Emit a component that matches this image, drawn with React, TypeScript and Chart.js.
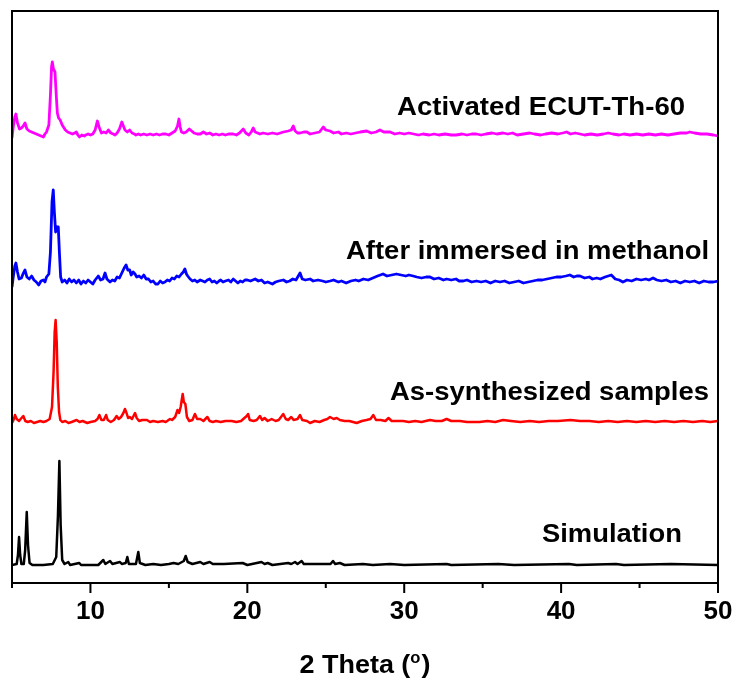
import React, { useEffect, useRef } from "react";
import { Chart, registerables } from "chart.js";

Chart.register(...registerables);

// ---- axis ticks ----
const xMajorTicks = [10, 20, 30, 40, 50];
const xMinorTicks = [5, 15, 25, 35, 45];

// ---- series names ----
const seriesNames = [
  "Simulation",
  "As-synthesized samples",
  "After immersed in methanol",
  "Activated ECUT-Th-60",
];

// vertical stacking offsets (intensity units)
const seriesOffsets = [18, 161, 301, 448];

// ---- data: [2theta, relative intensity] ----
const simulation: [number, number][] = [
  [5.0, 0], [5.3, 1], [5.38, 10], [5.45, 28], [5.52, 10], [5.6, 1], [5.75, 1], [5.84, 15], [5.94, 53], [6.02, 20],
  [6.12, 2], [6.3, 0], [7.0, 0], [7.6, 1], [7.82, 8], [7.93, 50], [8.02, 104], [8.1, 40], [8.2, 5], [8.35, 1],
  [8.59, 3], [8.7, 0], [9.29, 2], [9.4, 0], [10.5, 0], [10.82, 5], [10.95, 1], [11.25, 4], [11.4, 1], [11.88, 3],
  [12.0, 1], [12.25, 2], [12.35, 8], [12.45, 1], [12.9, 1], [13.05, 13], [13.15, 2], [13.5, 0], [14.0, 1], [14.5, 0],
  [15.0, 1], [15.3, 2], [15.6, 1], [15.95, 4], [16.07, 9], [16.2, 3], [16.5, 1], [17.0, 3], [17.2, 1], [17.6, 3],
  [17.8, 1], [18.5, 1], [19.7, 2], [20.0, 0], [20.9, 3], [21.1, 1], [21.3, 2], [21.6, 0], [22.6, 2], [22.8, 1],
  [23.04, 3], [23.2, 1], [23.46, 4], [23.6, 1], [24.5, 1], [25.3, 1], [25.46, 4], [25.6, 1], [25.9, 2], [26.2, 0], [27.37, 1],
  [28.0, 0], [29.1, 1], [30.0, 0], [32.7, 1], [33.0, 0], [36.0, 1], [37.0, 0], [40.5, 1], [41.0, 0], [43.5, 1],
  [44.0, 0], [47.0, 1], [50.0, 0],
];

const asSynthesized: [number, number][] = [
  [5.0, -1], [5.1, 2], [5.19, 7], [5.3, 3], [5.45, 1], [5.55, 3], [5.72, 6], [5.85, 1], [6.0, 0], [6.2, 1],
  [6.4, -1], [6.6, 0], [6.8, 1], [7.0, 0], [7.2, 1], [7.4, 3], [7.55, 15], [7.65, 50], [7.72, 90], [7.78, 102],
  [7.85, 80], [7.92, 35], [8.0, 10], [8.08, 2], [8.2, 0], [8.4, 1], [8.6, -1], [8.8, 0], [9.12, 2], [9.3, 0],
  [9.5, 1], [9.8, -1], [10.0, 0], [10.3, 1], [10.45, 3], [10.57, 7], [10.7, 2], [10.85, 2], [11.0, 7], [11.1, 2],
  [11.3, 0], [11.5, 2], [11.67, 6], [11.8, 3], [11.95, 5], [12.1, 9], [12.2, 13], [12.3, 9], [12.4, 4], [12.5, 5],
  [12.65, 3], [12.84, 9], [12.95, 4], [13.1, 1], [13.3, 2], [13.6, 2], [13.8, 0], [14.0, 1], [14.3, 0], [14.6, 1],
  [14.8, 0], [15.07, 3], [15.2, 2], [15.4, 5], [15.55, 12], [15.65, 9], [15.75, 15], [15.88, 28], [15.95, 20], [16.05, 18],
  [16.15, 5], [16.3, 1], [16.5, 2], [16.66, 8], [16.8, 3], [17.0, 3], [17.2, 1], [17.45, 5], [17.6, 1], [17.8, 0],
  [18.0, 1], [18.3, 0], [18.6, 1], [19.0, 1], [19.3, 0], [19.6, 1], [19.96, 6], [20.05, 8], [20.15, 2], [20.4, 1],
  [20.6, 2], [20.8, 6], [20.95, 2], [21.1, 4], [21.3, 1], [21.55, 3], [21.8, 1], [22.0, 2], [22.29, 8], [22.45, 3],
  [22.6, 2], [22.8, 5], [22.95, 2], [23.2, 3], [23.36, 7], [23.5, 2], [23.8, 1], [24.0, -1], [24.3, 1], [24.6, 0],
  [24.9, 2], [25.1, 3], [25.27, 5], [25.5, 3], [25.7, 4], [25.9, 2], [26.2, 1], [26.5, 1], [26.97, -1], [27.3, 1],
  [27.6, 2], [27.85, 3], [28.03, 7], [28.2, 2], [28.5, 2], [28.8, 1], [29.0, 4], [29.2, 1], [29.5, 1], [29.93, 1],
  [30.3, 0], [30.7, 1], [31.1, 0], [31.64, 2], [32.0, 1], [32.4, 1], [32.7, 3], [33.0, 1], [33.55, 1], [34.0, 0],
  [34.8, 0], [35.3, 1], [35.8, 0], [36.3, 2], [36.8, 1], [37.4, 0], [38.0, 1], [38.6, 0], [39.2, 1], [39.8, 1],
  [40.6, 2], [41.2, 1], [41.8, 1], [42.4, 0], [43.0, 1], [43.6, 0], [44.2, 1], [44.8, 0], [45.4, 1], [46.0, 0],
  [46.6, 1], [47.2, 0], [47.8, 1], [48.4, 0], [49.0, 1], [49.5, 0], [50.0, 1],
];

const methanol: [number, number][] = [
  [5.0, -5], [5.08, 5], [5.18, 16], [5.25, 19], [5.35, 10], [5.45, 3], [5.6, 4], [5.7, 8], [5.83, 12], [5.95, 5],
  [6.1, 3], [6.25, 6], [6.4, 2], [6.55, 0], [6.7, -3], [6.85, 1], [7.0, 2], [7.1, 0], [7.2, 5], [7.35, 8],
  [7.45, 30], [7.55, 80], [7.63, 92], [7.7, 70], [7.78, 50], [7.85, 55], [7.95, 55], [8.02, 30], [8.1, 5], [8.2, 0],
  [8.36, 2], [8.5, -1], [8.65, 3], [8.8, 0], [8.95, 2], [9.1, -1], [9.25, 2], [9.4, -2], [9.55, 1], [9.7, -1],
  [9.85, 2], [10.0, 0], [10.15, -2], [10.3, 2], [10.5, 6], [10.65, 2], [10.8, 3], [10.93, 9], [11.05, 3], [11.25, 0],
  [11.4, 2], [11.55, 1], [11.7, 5], [11.85, 4], [12.0, 9], [12.15, 14], [12.27, 17], [12.38, 12], [12.5, 12], [12.6, 7],
  [12.72, 10], [12.84, 8], [12.95, 5], [13.1, 6], [13.25, 4], [13.4, 7], [13.55, 3], [13.7, 3], [13.85, 0], [14.0, 1],
  [14.15, -2], [14.3, -2], [14.45, 1], [14.6, -1], [14.75, 0], [14.9, 2], [15.05, 1], [15.2, 4], [15.35, 3], [15.5, 6],
  [15.65, 5], [15.8, 8], [15.92, 10], [16.02, 13], [16.12, 8], [16.2, 6], [16.35, 3], [16.5, 1], [16.65, 2], [16.8, 0],
  [17.0, 2], [17.15, 1], [17.3, 0], [17.45, 2], [17.6, 3], [17.75, 0], [17.9, 1], [18.05, -1], [18.2, 1], [18.3, 2],
  [18.45, 0], [18.6, 1], [18.8, 2], [18.95, 0], [19.1, 3], [19.25, 1], [19.4, -1], [19.55, 1], [19.7, 0], [19.85, 2],
  [20.0, 2], [20.2, 1], [20.5, 3], [20.7, 1], [20.9, 2], [21.1, -1], [21.3, 0], [21.6, -2], [21.8, 0], [22.0, 1],
  [22.3, 2], [22.5, 0], [22.7, 1], [22.9, 3], [23.1, 2], [23.36, 9], [23.5, 3], [23.7, 2], [24.0, 3], [24.2, 1],
  [24.5, 2], [24.8, 1], [25.0, 0], [25.27, 1], [25.5, 2], [25.8, 0], [26.0, 1], [26.3, -1], [26.6, 1], [26.9, 2],
  [27.1, 1], [27.4, 3], [27.7, 2], [28.0, 4], [28.3, 6], [28.65, 8], [28.9, 6], [29.2, 7], [29.5, 8], [29.8, 7],
  [30.1, 6], [30.3, 7], [30.57, 6], [30.8, 5], [31.1, 4], [31.4, 5], [31.64, 5], [31.9, 3], [32.2, 4], [32.5, 2],
  [32.7, 3], [33.0, 2], [33.3, 3], [33.5, 1], [33.76, 1], [34.0, 2], [34.3, 0], [34.6, 1], [34.9, 0], [35.2, 1],
  [35.5, -1], [35.8, 1], [36.1, 0], [36.4, 1], [36.7, -1], [37.0, 0], [37.3, 1], [37.6, -1], [37.9, 0], [38.2, 1],
  [38.5, 2], [38.8, 2], [39.1, 3], [39.4, 4], [39.7, 5], [40.0, 5], [40.3, 6], [40.56, 7], [40.8, 5], [41.0, 6],
  [41.2, 6], [41.5, 4], [41.8, 5], [42.0, 3], [42.27, 4], [42.5, 3], [42.8, 5], [43.0, 6], [43.2, 7], [43.45, 3],
  [43.7, 2], [43.94, 0], [44.2, 2], [44.5, 1], [44.8, 3], [45.1, 2], [45.4, 3], [45.6, 2], [45.86, 4], [46.1, 2],
  [46.4, 1], [46.7, 2], [47.0, 0], [47.3, 1], [47.6, -1], [47.9, 1], [48.2, 0], [48.5, 1], [48.8, -1], [49.1, 1],
  [49.4, 0], [49.7, 0], [50.0, 1],
];

const activated: [number, number][] = [
  [5.0, -3], [5.08, 8], [5.18, 18], [5.25, 21], [5.35, 12], [5.48, 6], [5.6, 7], [5.72, 9], [5.83, 12], [5.95, 6],
  [6.1, 4], [6.25, 3], [6.4, 2], [6.55, 1], [6.7, 0], [6.85, -1], [7.0, -2], [7.1, 1], [7.2, 3], [7.35, 10],
  [7.45, 40], [7.52, 68], [7.57, 73], [7.64, 66], [7.74, 63], [7.82, 40], [7.89, 22], [7.97, 17], [8.07, 15], [8.2, 10],
  [8.4, 5], [8.55, 3], [8.7, 2], [8.85, 1], [9.0, 2], [9.1, 3], [9.2, 0], [9.3, -2], [9.45, 0], [9.6, -1],
  [9.7, 0], [9.85, 1], [10.0, 0], [10.15, 1], [10.3, 5], [10.44, 14], [10.55, 8], [10.7, 2], [10.85, 3], [11.0, 2],
  [11.14, 5], [11.3, 2], [11.45, 1], [11.57, 0], [11.7, 2], [11.85, 6], [12.0, 13], [12.1, 9], [12.2, 5], [12.35, 3],
  [12.5, 5], [12.65, 2], [12.8, 1], [12.9, 0], [13.05, 1], [13.2, 0], [13.4, 1], [13.6, 0], [13.8, 1], [14.0, 0],
  [14.2, 1], [14.4, 0], [14.6, 1], [14.8, 1], [15.0, 0], [15.2, 2], [15.4, 4], [15.55, 9], [15.64, 16], [15.72, 8],
  [15.8, 3], [15.95, 2], [16.1, 3], [16.3, 6], [16.45, 4], [16.6, 2], [16.8, 1], [17.0, 1], [17.2, 3], [17.4, 1],
  [17.6, 2], [17.8, 0], [18.0, 1], [18.2, 0], [18.4, 1], [18.6, 0], [18.8, 1], [19.1, 1], [19.3, 0], [19.5, 2],
  [19.74, 6], [19.9, 2], [20.1, 0], [20.25, 3], [20.38, 7], [20.5, 3], [20.8, 1], [21.0, 2], [21.3, 1], [21.6, 2],
  [21.9, 1], [22.1, 2], [22.3, 3], [22.6, 4], [22.8, 5], [22.93, 9], [23.05, 4], [23.2, 2], [23.36, 2], [23.6, 3],
  [23.8, 3], [24.0, 1], [24.3, 2], [24.6, 3], [24.84, 8], [25.0, 5], [25.27, 4], [25.5, 2], [25.8, 3], [26.0, 1],
  [26.3, 2], [26.6, 1], [26.9, 2], [27.2, 3], [27.6, 4], [27.9, 2], [28.2, 3], [28.45, 5], [28.7, 3], [29.1, 3],
  [29.4, 1], [29.7, 2], [30.0, 1], [30.3, 2], [30.6, 1], [30.9, 0], [31.2, 1], [31.6, 0], [31.9, 1], [32.2, 0],
  [32.6, 1], [33.0, 0], [33.3, 0], [33.7, 1], [34.0, 0], [34.3, 1], [34.6, 1], [34.9, 0], [35.2, 1], [35.6, 2],
  [35.9, 1], [36.3, 2], [36.6, 1], [36.9, 2], [37.2, 0], [37.6, 1], [38.0, 2], [38.3, 1], [38.7, 0], [39.0, 1],
  [39.4, 2], [39.8, 1], [40.1, 2], [40.35, 3], [40.6, 1], [40.9, 2], [41.2, 1], [41.5, 0], [41.9, 1], [42.3, 0],
  [42.7, 1], [43.0, 2], [43.3, 1], [43.7, 0], [44.0, 1], [44.4, 0], [44.8, 1], [45.2, 0], [45.6, 1], [46.0, 0],
  [46.4, 1], [46.8, 0], [47.2, 1], [47.6, 2], [48.0, 2], [48.2, 3], [48.5, 2], [48.9, 1], [49.3, 1], [49.7, 0],
  [50.0, -1],
];

const seriesData = [simulation, asSynthesized, methanol, activated];
const seriesColors = ["#000000", "#ff0000", "#0000ff", "#ff00ff"];
const seriesWidths = [2.5, 2.5, 2.8, 2.8];

// label anchors in data units: [left 2theta, right 2theta, baseline intensity]
const labelAnchors: [number, number, number][] = [
  [38.78, 47.7, 41],
  [29.09, 49.43, 183],
  [26.29, 49.43, 324],
  [29.54, 47.9, 468],
];

const FONT = "'Liberation Sans', Arial, sans-serif";

const decorPlugin = {
  id: "decor",
  afterDatasetsDraw(chart: any) {
    const { ctx, chartArea, scales } = chart;
    const { left, right, top, bottom } = chartArea;
    const x = scales.x;
    const y = scales.y;
    ctx.save();
    // frame
    ctx.strokeStyle = "#000";
    ctx.lineWidth = 2;
    ctx.strokeRect(left, top, right - left, bottom - top);
    // ticks
    ctx.beginPath();
    xMajorTicks.forEach((v) => {
      const px = x.getPixelForValue(v);
      ctx.moveTo(px, bottom);
      ctx.lineTo(px, bottom + 10);
    });
    xMinorTicks.forEach((v) => {
      const px = x.getPixelForValue(v);
      ctx.moveTo(px, bottom);
      ctx.lineTo(px, bottom + 5);
    });
    ctx.stroke();

    // series labels
    ctx.fillStyle = "#000";
    ctx.textBaseline = "alphabetic";
    ctx.textAlign = "left";
    ctx.font = `bold 25px ${FONT}`;
    seriesNames.forEach((name, i) => {
      const [lx, rx, ly] = labelAnchors[i];
      const pxL = x.getPixelForValue(lx);
      const pxR = x.getPixelForValue(rx);
      const py = y.getPixelForValue(ly);
      const w = ctx.measureText(name).width;
      const sx = (pxR - pxL) / w;
      ctx.save();
      ctx.translate(pxL, py);
      ctx.scale(sx, 1);
      ctx.fillText(name, 0, 0);
      ctx.restore();
    });

    // axis title: 2 Theta (°) with superscript o
    const part1 = "2 Theta (";
    const sup = "o";
    const part3 = ")";
    ctx.font = `bold 26px ${FONT}`;
    const w1 = ctx.measureText(part1).width;
    const w3 = ctx.measureText(part3).width;
    ctx.font = `bold 16px ${FONT}`;
    const w2 = ctx.measureText(sup).width + 1;
    const total = w1 + w2 + w3;
    const targetW = 131;
    const sx = targetW / total;
    const cx = (left + right) / 2;
    const baseY = 673;
    ctx.save();
    ctx.translate(cx - targetW / 2, baseY);
    ctx.scale(sx, 1);
    ctx.font = `bold 26px ${FONT}`;
    ctx.fillText(part1, 0, 0);
    ctx.font = `bold 16px ${FONT}`;
    ctx.fillText(sup, w1, -10);
    ctx.font = `bold 26px ${FONT}`;
    ctx.fillText(part3, w1 + w2, 0);
    ctx.restore();

    ctx.restore();
  },
};

export default function App() {
  const canvasRef = useRef<HTMLCanvasElement | null>(null);

  useEffect(() => {
    if (!canvasRef.current) return;
    const chart = new Chart(canvasRef.current, {
      type: "line",
      data: {
        datasets: seriesData.map((pts, i) => ({
          label: seriesNames[i],
          data: pts.map(([a, b]) => ({ x: a, y: b + seriesOffsets[i] })),
          borderColor: seriesColors[i],
          backgroundColor: seriesColors[i],
          borderWidth: seriesWidths[i],
          pointRadius: 0,
          tension: 0,
          fill: false,
          borderJoinStyle: "round" as const,
        })),
      },
      options: {
        animation: false,
        responsive: false,
        maintainAspectRatio: false,
        layout: { padding: { left: 12, right: 19, top: 11, bottom: 0 } },
        plugins: {
          legend: { display: false },
          tooltip: { enabled: false },
          title: { display: false },
        },
        scales: {
          x: {
            type: "linear",
            min: 5,
            max: 50,
            grid: { display: false, drawTicks: false },
            border: { display: false },
            afterBuildTicks: (s: any) => {
              s.ticks = xMajorTicks.map((v) => ({ value: v }));
            },
            afterFit: (s: any) => {
              s.height = 100;
              s.paddingLeft = 0;
              s.paddingRight = 0;
            },
            ticks: {
              color: "#000",
              padding: 13,
              maxRotation: 0,
              autoSkip: false,
              font: { family: FONT, size: 26, weight: "bold" },
            },
          },
          y: {
            display: false,
            min: 0,
            max: 572,
          },
        },
      },
      plugins: [decorPlugin],
    });
    return () => chart.destroy();
  }, []);

  return (
    <div style={{ position: "absolute", left: 0, top: 0, width: 737, height: 683, background: "#fff" }}>
      <canvas ref={canvasRef} width={737} height={683} style={{ display: "block" }} />
    </div>
  );
}
